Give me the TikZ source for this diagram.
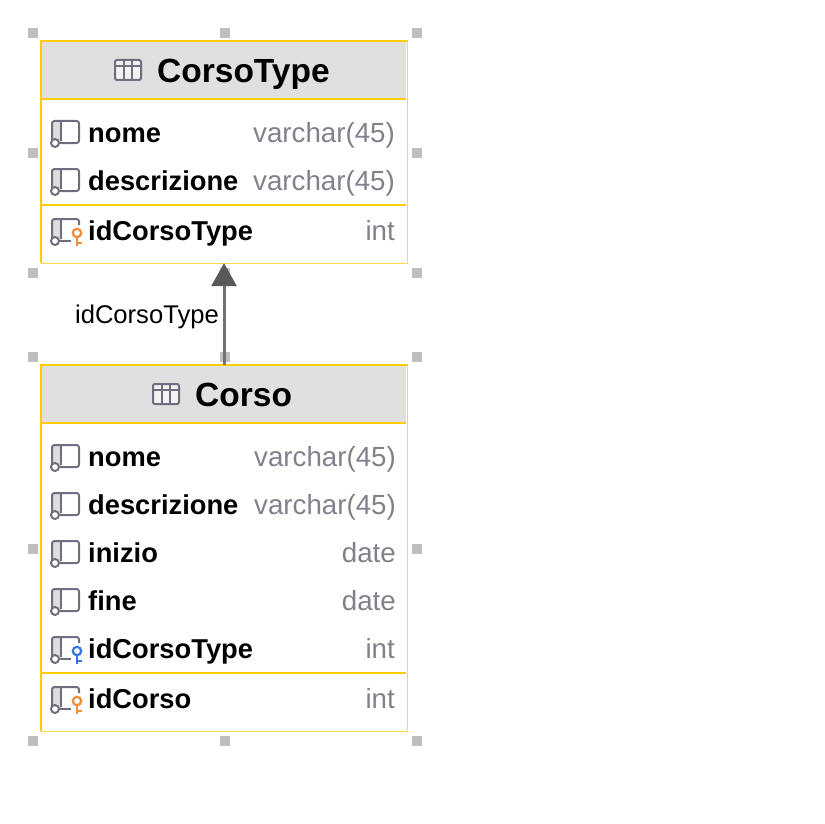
\documentclass[tikz,border=0pt]{standalone}
\usepackage{fontspec}
\setmainfont{Liberation Sans}
\usetikzlibrary{arrows.meta}
\definecolor{tablegold}{HTML}{FFCC00}
\definecolor{headgray}{HTML}{E0E0E0}
\definecolor{typegray}{HTML}{81818B}
\definecolor{icongray}{HTML}{6E6E7E}
\definecolor{keyorange}{HTML}{F28C38}
\definecolor{keyblue}{HTML}{3574F0}
\tikzset{
  handle/.style={fill=black!25, draw=none, minimum size=10pt, inner sep=0},
  titletext/.style={font=\fontsize{33.5}{34}\selectfont\bfseries, anchor=base west, inner sep=0},
  fieldtext/.style={font=\fontsize{27.3}{28}\selectfont\bfseries, anchor=base west, inner sep=0},
  typetext/.style={font=\fontsize{27.7}{28}\selectfont, text=typegray, anchor=base east, inner sep=0},
  linktext/.style={font=\fontsize{25.6}{26}\selectfont, anchor=base east, inner sep=0},
  icon/.style={draw=icongray, line width=2pt},
}
% column glyph, #1 = row centre
\newcommand{\colglyph}[1]{
  \fill[black!13] (52,#1-11) rectangle (60.5,#1+9);
  \draw[icon, rounded corners=2.5pt] (52,#1+7) -- (52,#1-12) -- (79,#1-12) -- (79,#1+10) -- (60,#1+10);
  \draw[icon] (60.5,#1-12) -- (60.5,#1+8);
  \draw[icon, fill=white] (55,#1+10) circle (4);
}
% column glyph with a key, #1 = row centre, #2 = key colour
\newcommand{\keyglyph}[2]{
  \fill[black!13] (52,#1-11) rectangle (60.5,#1+9);
  \draw[icon, rounded corners=2.5pt] (52,#1+7) -- (52,#1-12) -- (79,#1-12) -- (79,#1-6);
  \draw[icon] (60.5,#1-12) -- (60.5,#1+8);
  \draw[icon] (59,#1+10) -- (71,#1+10);
  \draw[icon, fill=white] (55,#1+10) circle (4);
  \draw[draw=#2, line width=2.2pt] (77,#1+5) -- (77,#1+15) (77,#1+12) -- (82,#1+12);
  \draw[draw=#2, line width=2.2pt, fill=white] (77,#1+2) circle (4.2);
}
% table frame, #1 = name, #2 = top, #3 = header bottom, #4 = separator, #5 = bottom
\newcommand{\tableframe}[5]{
  \fill[headgray] (41,#2) rectangle (406,#3);
  \node[minimum width=366pt, minimum height=#5pt-#2pt, inner sep=0] (#1) at (224,{(#2+#5)/2}) {};
  \draw[tablegold!75, line width=1pt] (407,#2) -- (407,#5) -- (41,#5);
  \draw[tablegold, line width=2pt] (41,#5) -- (41,#2) -- (407.5,#2);
  \draw[tablegold, line width=2pt] (41,#3) -- (406,#3) (41,#4) -- (406,#4);
}
% table glyph in the header, #1 = left edge, #2 = row centre
\newcommand{\headglyph}[2]{
  \draw[icon, fill=black!5, rounded corners=2pt] (#1,#2-10) rectangle ++(26,20);
  \draw[icon] (#1,#2-4) -- ++(26,0) (#1+8.7,#2-10) -- ++(0,20) (#1+17.3,#2-10) -- ++(0,20);
}
\begin{document}
\begin{tikzpicture}[x=1pt, y=-1pt]
  \useasboundingbox (0,0) rectangle (824,824);

  % selection handles
  \foreach \hx/\hy in {33/33,225/33,417/33,33/153,417/153,33/273,225/273,417/273,
                       33/357,225/357,417/357,33/549,417/549,33/741,225/741,417/741} {
    \node[handle] (h\hx-\hy) at (\hx,\hy) {};
  }

  % upper table
  \tableframe{corsotype}{41}{99}{205}{263}
  \headglyph{115}{70}
  \node[titletext] (corsotypetitle) at (157,82.5) {CorsoType};
  \foreach \ry/\fname/\ftype in {133/nome/varchar(45),181/descrizione/varchar(45)} {
    \colglyph{\ry}
    \node[fieldtext] (a\fname) at (88,\ry+9.6) {\fname};
    \node[typetext] (atype\fname) at (395,\ry+9.6) {\ftype};
  }
  \keyglyph{231}{keyorange}
  \node[fieldtext] (aid) at (88,240.6) {idCorsoType};
  \node[typetext] (atypeid) at (395,240.6) {int};

  % lower table
  \tableframe{corso}{365}{423}{673}{731}
  \headglyph{153}{394}
  \node[titletext] (corsotitle) at (195,406.5) {Corso};
  \foreach \ry/\fname/\ftype in {457/nome/varchar(45),505/descrizione/varchar(45),
                                 553/inizio/date,601/fine/date} {
    \colglyph{\ry}
    \node[fieldtext] (b\fname) at (88,\ry+9.6) {\fname};
    \node[typetext] (btype\fname) at (396,\ry+9.6) {\ftype};
  }
  \keyglyph{649}{keyblue}
  \node[fieldtext] (bfk) at (88,658.6) {idCorsoType};
  \node[typetext] (btypefk) at (395,658.6) {int};
  \keyglyph{699}{keyorange}
  \node[fieldtext] (bid) at (88,708.6) {idCorso};
  \node[typetext] (btypeid) at (395,708.6) {int};

  % reference between the two tables
  \draw[-{Triangle[length=23pt, width=25pt, color=black!65]}, draw=black!55, line width=3pt]
    (corso.north) -- (corsotype.south);
  \node[linktext] (linklabel) at (219,323) {idCorsoType};
\end{tikzpicture}
\end{document}
